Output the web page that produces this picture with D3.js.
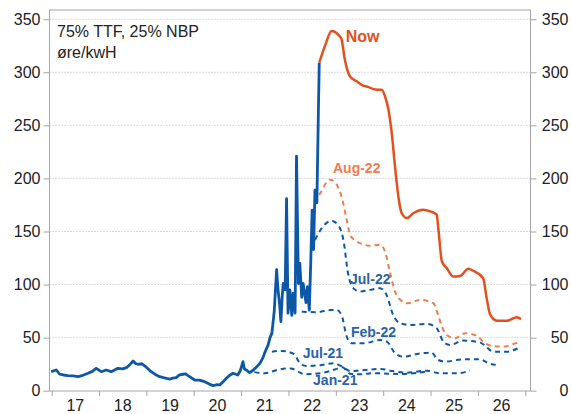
<!DOCTYPE html>
<html>
<head>
<meta charset="utf-8">
<script src="https://cdn.jsdelivr.net/npm/d3@7"></script>
<style>
  body { margin: 0; background: #fff; }
  svg { display: block; font-family: "Liberation Sans", Arial, sans-serif; }
</style>
</head>
<body>
<svg id="chart" width="571" height="414"></svg>
<script>
// spot price, 75% TTF / 25% NBP, øre/kWh  [year, value]
const spot = [
  [2016.99, 17.9], [2017.10, 19.5], [2017.17, 15.5], [2017.25, 14.8], [2017.34, 14.2],
  [2017.45, 14.0], [2017.56, 13.2], [2017.66, 14.5], [2017.77, 16.4], [2017.86, 18.2],
  [2017.94, 21.1], [2018.05, 17.9], [2018.15, 19.5], [2018.26, 17.9], [2018.40, 21.1],
  [2018.50, 20.6], [2018.58, 21.7], [2018.66, 25.0], [2018.72, 28.0], [2018.77, 25.6],
  [2018.82, 24.9], [2018.90, 25.4], [2018.96, 23.6], [2019.04, 20.5], [2019.10, 17.9],
  [2019.20, 15.0], [2019.28, 13.2], [2019.38, 12.0], [2019.49, 11.0], [2019.56, 11.8],
  [2019.63, 12.3], [2019.70, 15.0], [2019.77, 15.5], [2019.83, 15.8], [2019.88, 14.2],
  [2020.02, 10.1], [2020.12, 10.0], [2020.23, 8.5], [2020.33, 6.2], [2020.41, 4.7],
  [2020.48, 5.6], [2020.55, 5.4], [2020.62, 8.5], [2020.69, 11.7], [2020.76, 14.5],
  [2020.83, 16.4], [2020.93, 14.8], [2020.98, 18.5], [2021.04, 27.4], [2021.07, 20.5],
  [2021.11, 19.5], [2021.18, 17.0], [2021.26, 19.5], [2021.33, 22.5], [2021.40, 26.0],
  [2021.46, 31.0], [2021.52, 38.0], [2021.57, 43.0], [2021.61, 50.0], [2021.65, 54.0],
  [2021.70, 75.0], [2021.75, 114], [2021.78, 95], [2021.81, 83], [2021.84, 65],
  [2021.87, 90], [2021.89, 101], [2021.93, 95], [2021.96, 181], [2021.99, 73],
  [2022.03, 95], [2022.07, 71], [2022.10, 92], [2022.14, 73], [2022.17, 221],
  [2022.21, 101], [2022.24, 120], [2022.28, 88], [2022.31, 101], [2022.37, 83],
  [2022.40, 98], [2022.44, 76], [2022.47, 120], [2022.50, 170], [2022.53, 133],
  [2022.56, 189], [2022.60, 177], [2022.63, 258], [2022.65, 309]
];

// forward curves [year, value]
const fwdNow = [
  [2022.65, 309], [2022.78, 326], [2022.91, 339], [2023.05, 335.5], [2023.12, 331],
  [2023.19, 312], [2023.30, 296], [2023.44, 291.5], [2023.58, 287.5], [2023.69, 286],
  [2023.83, 283.7], [2023.97, 283.5], [2024.04, 277], [2024.11, 265], [2024.18, 243],
  [2024.25, 211], [2024.32, 183], [2024.39, 167.4], [2024.50, 162.6], [2024.64, 167.4],
  [2024.85, 170.5], [2024.99, 169], [2025.13, 165.8], [2025.16, 154.7], [2025.24, 121.7],
  [2025.34, 115.5], [2025.48, 107.5], [2025.62, 108], [2025.80, 114.8], [2025.90, 113],
  [2026.11, 106], [2026.19, 85.6], [2026.26, 71.4], [2026.40, 66], [2026.61, 65.8],
  [2026.75, 68.3], [2026.82, 69.2], [2026.91, 67.4]
];
const fwdAug22 = [
  [2022.56, 176.8], [2022.67, 186], [2022.88, 198.8], [2023.02, 194], [2023.12, 183],
  [2023.23, 161], [2023.30, 146.9], [2023.41, 141.5], [2023.55, 138.4], [2023.72, 136.5],
  [2023.93, 137.5], [2024.04, 131], [2024.14, 112], [2024.25, 93.4], [2024.36, 85.6],
  [2024.53, 82.4], [2024.78, 85.6], [2025.06, 82.4], [2025.16, 71.4], [2025.24, 60.4],
  [2025.34, 52.5], [2025.52, 49.4], [2025.73, 54.1], [2025.98, 51.6], [2026.11, 46.2],
  [2026.26, 42.5], [2026.54, 41.5], [2026.75, 44], [2026.91, 46.2]
];
const fwdJul22 = [
  [2022.56, 142], [2022.70, 153], [2022.91, 160], [2023.05, 156], [2023.16, 142],
  [2023.26, 110], [2023.37, 96.6], [2023.51, 93.4], [2023.72, 95], [2023.93, 96.6],
  [2024.07, 90.3], [2024.21, 71.4], [2024.36, 63.6], [2024.57, 62], [2024.92, 62.9],
  [2025.13, 58.9], [2025.27, 46.2], [2025.41, 43.1], [2025.69, 47.2], [2026.05, 45.3],
  [2026.33, 36.8], [2026.61, 36.8], [2026.85, 40]
];
const fwdFeb22 = [
  [2022.28, 74.5], [2022.60, 74], [2022.90, 76], [2023.02, 76], [2023.12, 71.4],
  [2023.23, 51], [2023.34, 44.7], [2023.60, 44.7], [2023.93, 47.8], [2024.08, 46.2],
  [2024.25, 35.3], [2024.43, 32], [2024.71, 34.6], [2025.02, 35.8], [2025.16, 29],
  [2025.31, 27.4], [2025.69, 29.6], [2026.05, 29.6], [2026.22, 25.8], [2026.40, 24.2]
];
const fwdJul21 = [
  [2021.65, 36.8], [2021.85, 37.5], [2022.12, 34.5], [2022.24, 26], [2022.38, 23.3],
  [2022.67, 24], [2022.95, 25.8], [2023.14, 22.6], [2023.30, 18.5], [2023.50, 19],
  [2023.95, 20.5], [2024.20, 18.5], [2024.50, 17], [2024.92, 18.9], [2025.20, 16.4],
  [2025.55, 16.4], [2025.83, 18.9]
];
const fwdJan21 = [
  [2021.28, 17.5], [2021.50, 16.4], [2021.80, 20], [2022.05, 21], [2022.20, 18],
  [2022.35, 15.5], [2022.75, 17], [2022.98, 20], [2023.14, 22], [2023.30, 16],
  [2023.50, 15.5], [2023.80, 16.5], [2024.10, 16], [2024.45, 15.8], [2024.75, 17],
  [2024.95, 18.5]
];

const yearTicks = [2017, 2018, 2019, 2020, 2021, 2022, 2023, 2024, 2025, 2026, 2027];
const yearLabels = ['17', '18', '19', '20', '21', '22', '23', '24', '25', '26'];
const valueTicks = [0, 50, 100, 150, 200, 250, 300, 350];

// label anchors: [name, year, value]
const curveLabels = [
  ['Now', 2023.21, 328.5],
  ['Aug-22', 2022.94, 205],
  ['Jul-22', 2023.30, 100.7],
  ['Feb-22', 2023.32, 51],
  ['Jul-21', 2022.30, 30.8],
  ['Jan-21', 2022.52, 5.4]
];

const blue = '#0c58a6';
const red = '#e2501e';
const orange = '#ef7d50';

const svg = d3.select('#chart');
const plot = { left: 49.5, right: 530.5, top: 10, bottom: 391 };

const x = d3.scaleLinear().domain([2016.955, 2027.11]).range([plot.left, plot.right]);
const y = d3.scaleLinear().domain([0, 350]).range([390.7, 19.2]);

// grid
svg.append('g')
  .selectAll('line')
  .data(valueTicks.filter(v => v > 0))
  .join('line')
  .attr('x1', plot.left).attr('x2', plot.right)
  .attr('y1', d => y(d)).attr('y2', d => y(d))
  .attr('stroke', '#b5b5b5')
  .attr('stroke-width', 1)
  .attr('stroke-dasharray', '1,2');

// frame
svg.append('rect')
  .attr('x', plot.left).attr('y', plot.top)
  .attr('width', plot.right - plot.left).attr('height', plot.bottom - plot.top)
  .attr('fill', 'none')
  .attr('stroke', '#a6a6a6')
  .attr('stroke-width', 1);

const styleAxis = g => {
  g.select('.domain').remove();
  g.selectAll('.tick line').attr('stroke', '#a6a6a6');
  g.selectAll('.tick text').attr('fill', '#222').style('font-size', '16px');
};

svg.append('g')
  .attr('transform', `translate(${plot.left},0)`)
  .call(d3.axisLeft(y).tickValues(valueTicks).tickSize(6).tickPadding(3))
  .call(styleAxis);

svg.append('g')
  .attr('transform', `translate(${plot.right},0)`)
  .call(d3.axisRight(y).tickValues(valueTicks).tickSize(6).tickPadding(3))
  .call(styleAxis)
  .selectAll('.tick text')
  .attr('text-anchor', 'end')
  .attr('x', 38);

svg.append('g')
  .attr('transform', `translate(0,${plot.bottom})`)
  .call(d3.axisBottom(x).tickValues(yearTicks).tickSize(5).tickFormat(''))
  .call(styleAxis);

svg.append('g')
  .selectAll('text')
  .data(yearLabels)
  .join('text')
  .attr('x', (d, i) => x(yearTicks[i] + 0.5))
  .attr('y', 411)
  .attr('text-anchor', 'middle')
  .attr('fill', '#222')
  .style('font-size', '16px')
  .text(d => d);

// lines
const line = d3.line().x(d => x(d[0])).y(d => y(d[1]));
const smooth = d3.line().x(d => x(d[0])).y(d => y(d[1])).curve(d3.curveMonotoneX);

const dashed = [
  [fwdJan21, blue], [fwdJul21, blue], [fwdFeb22, blue], [fwdJul22, blue], [fwdAug22, orange]
];
dashed.forEach(([data, color]) => {
  svg.append('path')
    .datum(data)
    .attr('d', smooth)
    .attr('fill', 'none')
    .attr('stroke', color)
    .attr('stroke-width', 2)
    .attr('stroke-dasharray', '5,4');
});

svg.append('path')
  .datum(spot)
  .attr('d', line)
  .attr('fill', 'none')
  .attr('stroke', blue)
  .attr('stroke-width', 2.8)
  .attr('stroke-linejoin', 'round');

svg.append('path')
  .datum(fwdNow)
  .attr('d', smooth)
  .attr('fill', 'none')
  .attr('stroke', red)
  .attr('stroke-width', 2.5)
  .attr('stroke-linejoin', 'round');

// curve labels
svg.append('g')
  .selectAll('text')
  .data(curveLabels)
  .join('text')
  .attr('x', d => x(d[1]))
  .attr('y', d => y(d[2]))
  .attr('fill', d => d[0] === 'Now' ? red : d[0] === 'Aug-22' ? orange : '#2a62a8')
  .style('font-size', d => d[0] === 'Now' ? '16px' : '14px')
  .style('font-weight', 'bold')
  .text(d => d[0]);

// unit note
svg.append('text')
  .attr('x', 57).attr('y', 37)
  .attr('fill', '#222')
  .style('font-size', '16px')
  .text('75% TTF, 25% NBP');
svg.append('text')
  .attr('x', 57).attr('y', 58)
  .attr('fill', '#222')
  .style('font-size', '16px')
  .text('øre/kwH');
</script>
</body>
</html>
